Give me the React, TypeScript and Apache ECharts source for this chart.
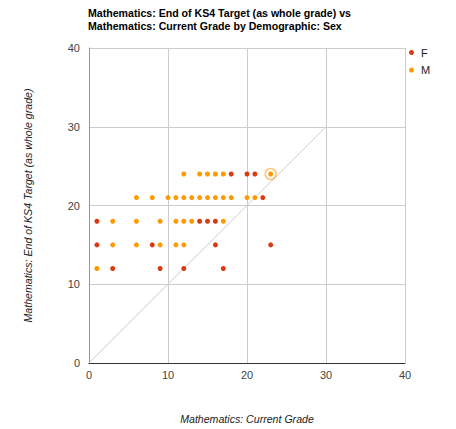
import React, { useEffect, useRef } from "react";
import * as echarts from "echarts";

const titleLines = [
  "Mathematics: End of KS4 Target (as whole grade) vs",
  "Mathematics: Current Grade by Demographic: Sex",
];
const xAxisName = "Mathematics: Current Grade";
const yAxisName = "Mathematics: End of KS4 Target (as whole grade)";
const seriesNames = ["F", "M"];

const fX = [1, 14, 15, 16, 1, 8, 16, 23, 3, 9, 12, 17, 18, 20, 21, 22];
const fY = [18, 18, 18, 18, 15, 15, 15, 15, 12, 12, 12, 12, 24, 24, 24, 21];

const mX = [12, 14, 15, 16, 17, 23, 6, 8, 10, 11, 12, 13, 14, 15, 16, 17, 18, 20, 21, 3, 6, 9, 11, 12, 13, 17, 3, 6, 9, 11, 12, 1];
const mY = [24, 24, 24, 24, 24, 24, 21, 21, 21, 21, 21, 21, 21, 21, 21, 21, 21, 21, 21, 18, 18, 18, 18, 18, 18, 18, 15, 15, 15, 15, 15, 12];

const refLineX = [0, 30];
const refLineY = [0, 30];
const highlighted = [23, 24];

const FONT = 'Arial, "Liberation Sans", sans-serif';

export default function App() {
  const ref = useRef<HTMLDivElement>(null);
  useEffect(() => {
    document.body.style.margin = "0";
    const chart = echarts.init(ref.current!, undefined, { renderer: "svg" });
    const fData = fX.map((x, i) => [x, fY[i]]);
    const mData = mX.map((x, i) => [x, mY[i]]);
    const lineData = refLineX.map((x, i) => [x, refLineY[i]]);
    chart.setOption({
      animation: false,
      backgroundColor: "#fff",
      title: {
        text: titleLines.join("\n"),
        left: 88,
        top: 6.5,
        padding: 0,
        textStyle: { fontFamily: FONT, fontSize: 10.6, fontWeight: "bold", color: "#000", lineHeight: 13 },
      },
      legend: {
        data: seriesNames,
        orient: "vertical",
        left: 404,
        top: 42,
        icon: "circle",
        itemWidth: 5,
        itemHeight: 5,
        itemGap: 6.5,
        textStyle: { fontFamily: FONT, fontSize: 11, color: "#222", padding: [0, 0, 0, 2] },
      },
      grid: { left: 89, right: 51, top: 48, bottom: 66, outerBoundsMode: "none", containLabel: false },
      xAxis: {
        type: "value",
        min: 0,
        max: 40,
        interval: 10,
        name: xAxisName,
        nameLocation: "middle",
        nameGap: 50,
        nameTextStyle: { fontFamily: FONT, fontSize: 10.6, fontStyle: "italic", color: "#222" },
        axisLine: { show: true, lineStyle: { color: "#333", width: 1 } },
        axisTick: { show: false },
        axisLabel: { fontFamily: FONT, fontSize: 11, color: "#444", margin: 6 },
        splitLine: { show: true, lineStyle: { color: "#ccc", width: 1 } },
      },
      yAxis: {
        type: "value",
        min: 0,
        max: 40,
        interval: 10,
        name: yAxisName,
        nameLocation: "middle",
        nameGap: 56,
        nameRotate: 90,
        nameTextStyle: { fontFamily: FONT, fontSize: 10.6, fontStyle: "italic", color: "#222" },
        axisLine: { show: true, lineStyle: { color: "#999", width: 1 } },
        axisTick: { show: false },
        axisLabel: { fontFamily: FONT, fontSize: 11, color: "#444", margin: 9 },
        splitLine: { show: true, lineStyle: { color: "#ccc", width: 1 } },
      },
      series: [
        {
          name: "ref",
          type: "line",
          data: lineData,
          symbol: "none",
          silent: true,
          lineStyle: { color: "#ccc", width: 1 },
          z: 1,
        },
        {
          name: "F",
          type: "scatter",
          data: fData,
          symbolSize: 5,
          itemStyle: { color: "#dc3912", opacity: 1 },
          z: 3,
        },
        {
          name: "M",
          type: "scatter",
          data: mData,
          symbolSize: 5,
          itemStyle: { color: "#ff9900", opacity: 1 },
          z: 3,
          markPoint: {
            silent: true,
            symbol: "circle",
            symbolSize: 11,
            label: { show: false },
            itemStyle: { color: "rgba(0,0,0,0)", borderColor: "rgba(255,153,0,0.55)", borderWidth: 1.5 },
            data: [{ coord: highlighted }],
          },
        },
      ],
    });
    return () => chart.dispose();
  }, []);
  return <div ref={ref} style={{ position: "absolute", left: 0, top: 0, width: 456, height: 429 }} />;
}
